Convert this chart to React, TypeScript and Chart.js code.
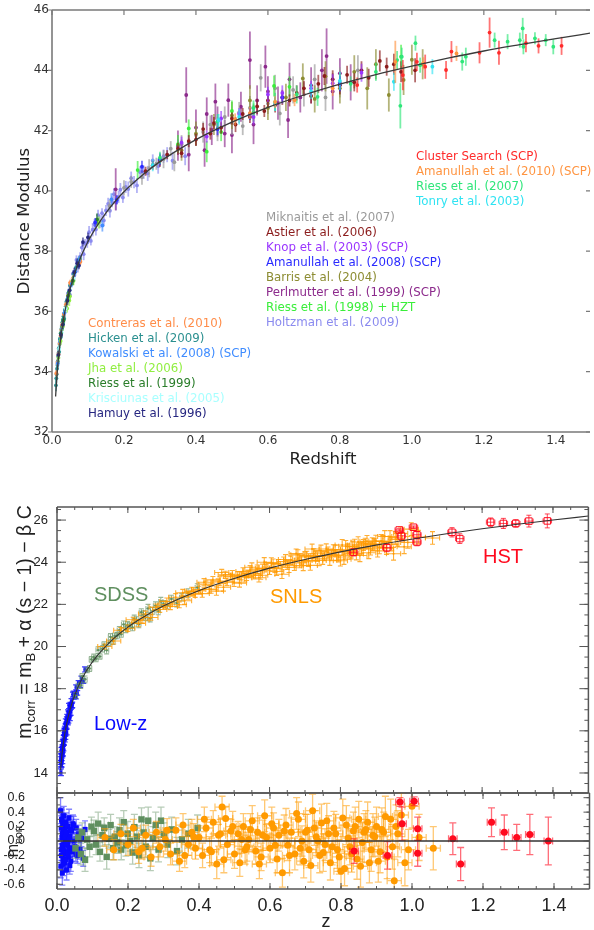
import { useEffect, useRef } from "react";
import { Chart, registerables } from "chart.js";
Chart.register(...registerables);

const SANS = "'DejaVu Sans', sans-serif";
const ARIAL = "'Liberation Sans', Arial, sans-serif";

// ---------- top panel: [redshift, distance modulus, error] ----------
const CURVE_Z = [0.01, 0.015, 0.02, 0.03, 0.04, 0.05, 0.07, 0.1, 0.15, 0.2, 0.25, 0.3, 0.4, 0.5, 0.6, 0.7, 0.8, 0.9, 1.0, 1.1, 1.2, 1.3, 1.4, 1.5];
const CURVE_MU = [33.18, 34.07, 34.7, 35.6, 36.24, 36.74, 37.51, 38.32, 39.27, 39.97, 40.51, 40.97, 41.7, 42.28, 42.77, 43.18, 43.54, 43.86, 44.14, 44.4, 44.64, 44.85, 45.05, 45.24];
const CURVE_M = [14.13, 15.02, 15.65, 16.55, 17.19, 17.69, 18.46, 19.27, 20.22, 20.92, 21.46, 21.92, 22.65, 23.23, 23.72, 24.13, 24.49, 24.81, 25.09, 25.35, 25.59, 25.8, 26.0, 26.19];

const HICKEN = [[0.011,33.55,0.2],[0.012,33.78,0.16],[0.013,33.92,0.15],[0.014,34.1,0.18],[0.015,34.22,0.14],[0.016,34.35,0.16],[0.017,34.52,0.15],[0.018,34.62,0.14],[0.019,34.78,0.15],[0.02,34.66,0.13],[0.021,34.92,0.14],[0.022,35.08,0.15],[0.023,35.12,0.13],[0.024,35.28,0.14],[0.025,35.16,0.15],[0.026,35.42,0.13],[0.027,35.52,0.14],[0.028,35.44,0.13],[0.029,35.64,0.14],[0.03,35.72,0.13],[0.031,35.58,0.14],[0.032,35.84,0.13],[0.033,35.92,0.13],[0.034,35.76,0.14],[0.036,36.06,0.13],[0.038,36.16,0.13],[0.04,36.32,0.12],[0.043,36.4,0.13],[0.046,36.62,0.12],[0.05,36.86,0.12],[0.055,36.96,0.12],[0.06,37.24,0.12],[0.066,37.44,0.11],[0.072,37.66,0.12],[0.078,37.74,0.11]];
const CONTRERAS = [[0.012,33.95,0.1],[0.015,34.3,0.1],[0.018,34.58,0.1],[0.021,34.95,0.1],[0.024,35.2,0.1],[0.026,35.38,0.1],[0.028,35.55,0.1],[0.033,35.9,0.1],[0.038,36.22,0.1],[0.045,36.52,0.1],[0.05,36.95,0.1],[0.058,37.1,0.1],[0.075,37.58,0.1],[0.079,37.65,0.1]];
const KOWALSKI = [[0.016,34.28,0.12],[0.022,35.0,0.12],[0.028,35.42,0.1],[0.035,35.96,0.12],[0.045,36.46,0.1],[0.055,36.92,0.12],[0.065,37.32,0.12],[0.075,37.68,0.15],[0.14,38.85,0.2],[0.165,39.72,0.2]];
const JHA = [[0.018,34.46,0.15],[0.024,35.02,0.14],[0.03,35.5,0.15],[0.042,36.1,0.14],[0.048,36.36,0.18],[0.05,36.5,0.15],[0.06,37.02,0.15],[0.13,38.95,0.2]];
const RIESS99 = [[0.025,35.26,0.15],[0.032,35.7,0.15],[0.045,36.52,0.15],[0.058,37.02,0.15],[0.125,39.05,0.2]];
const KRISCIUNAS = [[0.02,34.76,0.12],[0.027,35.3,0.12],[0.038,36.1,0.12],[0.05,36.72,0.12],[0.06,37.1,0.12]];
const HAMUY = [[0.018,34.56,0.14],[0.025,35.22,0.14],[0.03,35.56,0.14],[0.043,36.36,0.15],[0.049,36.7,0.14],[0.062,37.3,0.15],[0.07,37.6,0.15],[0.075,37.52,0.12],[0.086,38.3,0.15],[0.1,38.46,0.15]];
const HOLTZMAN = [[0.045,36.6,0.15],[0.05,36.55,0.2],[0.058,37.25,0.12],[0.062,37.19,0.18],[0.068,37.71,0.15],[0.072,37.49,0.2],[0.078,37.82,0.14],[0.083,38.12,0.16],[0.088,37.9,0.2],[0.092,38.25,0.15],[0.098,38.29,0.18],[0.103,38.63,0.2],[0.108,38.34,0.15],[0.113,38.71,0.22],[0.118,38.89,0.17],[0.122,38.72,0.2],[0.128,39.19,0.18],[0.133,38.98,0.22],[0.139,39.26,0.16],[0.144,39.02,0.2],[0.15,39.35,0.18],[0.156,39.57,0.2],[0.161,39.34,0.22],[0.167,39.64,0.18],[0.172,39.89,0.2],[0.178,39.61,0.25],[0.185,39.8,0.2],[0.19,40.04,0.22],[0.197,39.78,0.18],[0.205,40.13,0.2],[0.212,40.06,0.25],[0.22,40.42,0.22],[0.228,40.29,0.2],[0.236,40.18,0.25],[0.245,40.62,0.2],[0.255,40.62,0.22],[0.266,40.58,0.25],[0.28,41.01,0.2],[0.295,40.82,0.25],[0.31,41.15,0.22],[0.32,41.2,0.25],[0.335,41.0,0.3],[0.35,41.45,0.25],[0.37,41.15,0.3]];
const MIKNAITIS = [[0.16,39.5,0.2],[0.2,40.1,0.25],[0.22,40.3,0.2],[0.25,40.45,0.25],[0.27,40.75,0.3],[0.29,40.9,0.2],[0.31,41.05,0.3],[0.33,41.4,0.25],[0.34,40.95,0.3],[0.36,41.55,0.3],[0.38,41.6,0.35],[0.4,41.85,0.3],[0.42,41.95,0.35],[0.44,42.2,0.3],[0.46,42.05,0.4],[0.48,42.45,0.35],[0.5,42.25,0.4],[0.52,42.6,0.35],[0.53,42.15,0.3],[0.55,42.75,0.4],[0.58,43.75,0.45],[0.6,42.9,0.35],[0.62,43.4,0.45],[0.633,42.57,0.4],[0.67,43.35,0.45],[0.7,43.2,0.4],[0.73,43.7,0.5],[0.76,43.1,0.45],[0.8,43.6,0.5],[0.85,44.0,0.5]];
const ASTIER = [[0.26,40.65,0.15],[0.28,40.85,0.15],[0.3,41.0,0.2],[0.32,41.2,0.15],[0.35,41.4,0.2],[0.36,41.25,0.15],[0.38,41.65,0.2],[0.4,41.7,0.2],[0.42,42.05,0.2],[0.44,41.9,0.2],[0.45,42.25,0.2],[0.47,42.1,0.2],[0.5,42.4,0.2],[0.51,42.2,0.25],[0.53,42.55,0.2],[0.55,42.45,0.2],[0.57,42.8,0.25],[0.59,42.65,0.2],[0.6,43.0,0.25],[0.62,42.85,0.25],[0.64,43.1,0.25],[0.66,43.0,0.2],[0.68,43.25,0.25],[0.7,43.4,0.25],[0.72,43.15,0.25],[0.74,43.55,0.3],[0.757,43.81,0.3],[0.78,43.7,0.3],[0.8,43.5,0.3],[0.82,43.85,0.3],[0.84,43.6,0.3],[0.86,44.0,0.3],[0.88,43.75,0.3],[0.911,44.31,0.35],[0.93,44.12,0.3],[0.95,44.2,0.35],[0.97,43.95,0.35],[1.009,44.0,0.4]];
const KNOP = [[0.36,41.6,0.2],[0.43,41.8,0.2],[0.47,42.4,0.25],[0.52,42.55,0.2],[0.56,42.45,0.25],[0.6,43.2,0.25],[0.64,43.25,0.25],[0.72,43.4,0.25],[0.78,43.57,0.3],[0.86,43.92,0.3]];
const AMANULLAH08 = [[0.12,38.95,0.15],[0.18,39.7,0.15],[0.25,40.8,0.2],[0.3,41.05,0.2],[0.46,42.05,0.2],[0.55,42.55,0.2],[0.64,43.1,0.2],[0.8,43.55,0.25]];
const BARRIS = [[0.36,41.35,0.35],[0.4,41.9,0.4],[0.45,42.2,0.35],[0.5,42.5,0.45],[0.55,43.0,0.5],[0.6,42.75,0.4],[0.65,43.1,0.45],[0.697,43.73,0.5],[0.73,43.05,0.45],[0.76,43.8,0.5],[0.8,43.4,0.5],[0.84,43.95,0.55],[0.876,43.4,0.7],[0.9,44.2,0.5],[0.936,43.18,0.55],[0.977,43.68,0.5],[1.0,44.35,0.5],[1.03,44.2,0.5]];
const PERLMUTTER = [[0.177,40.05,0.7],[0.35,41.5,0.5],[0.373,43.18,0.92],[0.38,41.2,0.55],[0.4,42.1,0.6],[0.424,41.35,0.55],[0.43,42.55,0.55],[0.444,42.02,0.5],[0.454,42.96,0.6],[0.46,42.3,0.5],[0.48,41.9,0.45],[0.49,43.01,0.55],[0.5,41.85,0.6],[0.525,42.79,0.5],[0.55,44.34,0.95],[0.56,42.2,0.65],[0.57,43.0,0.5],[0.593,44.12,0.7],[0.6,43.3,0.5],[0.628,42.91,0.55],[0.656,42.35,0.6],[0.66,43.7,0.55],[0.69,43.1,0.5],[0.72,43.5,0.6],[0.75,44.0,0.7],[0.763,44.47,0.92],[0.78,43.3,0.6],[0.8,43.9,0.5],[0.83,43.6,0.6]];
const RIESS98 = [[0.238,40.69,0.3],[0.35,41.55,0.3],[0.38,42.07,0.3],[0.43,41.3,0.35],[0.47,41.95,0.3],[0.5,42.65,0.35],[0.56,42.6,0.3],[0.617,43.48,0.35],[0.66,43.45,0.35],[0.97,44.45,0.4]];
const RIESS07 = [[0.3,41.1,0.2],[0.46,42.3,0.25],[0.56,42.75,0.25],[0.62,42.95,0.3],[0.68,43.2,0.3],[0.738,43.12,0.3],[0.83,43.55,0.25],[0.9,43.95,0.3],[0.959,44.34,0.3],[0.968,42.82,0.75],[0.972,44.45,0.3],[1.01,44.9,0.25],[1.023,44.17,0.25],[1.14,44.29,0.3],[1.15,44.45,0.3],[1.23,45.0,0.25],[1.266,44.95,0.25],[1.3,45.0,0.25],[1.308,45.39,0.35],[1.31,44.78,0.25],[1.342,45.06,0.2],[1.372,45.0,0.2],[1.393,44.78,0.25]];
const CLUSTER = [[0.848,43.51,0.25],[0.975,43.84,0.5],[1.014,44.28,0.3],[1.037,44.12,0.4],[1.095,44.01,0.3],[1.11,44.62,0.35],[1.188,44.58,0.35],[1.216,45.25,0.5],[1.242,44.58,0.4],[1.317,44.9,0.3],[1.352,44.81,0.25],[1.416,44.81,0.3]];
const AMANULLAH10 = [[0.509,42.37,0.2],[0.55,42.58,0.2],[0.62,42.95,0.2],[0.674,43.01,0.2],[0.78,43.4,0.25],[0.954,44.28,0.7],[1.032,44.23,0.2],[1.124,44.56,0.25]];
const TONRY = [[0.28,40.85,0.2],[0.463,42.35,0.2],[0.52,42.45,0.25],[0.62,42.9,0.25],[0.72,43.3,0.25],[0.8,43.65,0.3],[0.95,43.62,0.3],[1.057,44.12,0.25]];

const TOP_X_TICKS = [0, 0.2, 0.4, 0.6, 0.8, 1.0, 1.2, 1.4];
const TOP_Y_TICKS = [32, 34, 36, 38, 40, 42, 44, 46];

// ---------- middle / bottom panels ----------
const LOWZ_Z = [0.010,0.011,0.012,0.012,0.013,0.014,0.015,0.016,0.016,0.017,0.018,0.019,0.020,0.021,0.022,0.023,0.024,0.025,0.026,0.027,0.028,0.030,0.031,0.032,0.034,0.035,0.037,0.039,0.041,0.043,0.045,0.048,0.051,0.054,0.057,0.061,0.065,0.069,0.074,0.079,0.0125,0.0135,0.0145,0.0155,0.017,0.0185,0.0195,0.0215,0.0225,0.0235,0.0245,0.0265,0.029,0.0305,0.033,0.036,0.038,0.042,0.047,0.053];
const LOWZ_M = [14.59,14.03,14.75,14.45,15.04,14.95,14.61,15.41,15.11,15.44,15.20,15.91,15.67,15.95,15.60,16.08,15.91,16.44,16.29,15.95,16.53,16.53,16.85,16.50,17.18,16.82,17.10,16.88,17.41,17.23,17.72,17.62,17.67,18.06,17.80,18.26,18.18,18.48,18.36,18.91,14.43,15.07,14.88,15.19,14.97,15.51,15.45,16.04,15.96,15.73,16.21,16.22,16.66,16.41,16.77,16.60,17.22,17.19,17.76,17.63];
const LOWZ_RES = [0.42,-0.35,0.18,-0.12,0.30,0.05,-0.44,0.22,-0.08,0.12,-0.25,0.35,-0.02,0.15,-0.30,0.08,-0.18,0.26,0.02,-0.40,0.10,-0.05,0.20,-0.22,0.32,-0.10,0.06,-0.28,0.14,-0.15,0.24,0.00,-0.08,0.18,-0.20,0.10,-0.12,0.04,-0.24,0.16,-0.2,0.28,-0.06,0.1,-0.32,0.04,-0.14,0.24,0.06,-0.26,0.12,-0.04,0.2,-0.16,0.02,-0.34,0.16,-0.1,0.22,-0.18];
const LOWZ_ERR = [0.18,0.16,0.17,0.15,0.16,0.14,0.17,0.15,0.14,0.16,0.15,0.13,0.14,0.15,0.13,0.14,0.15,0.13,0.12,0.14,0.13,0.12,0.14,0.13,0.12,0.13,0.12,0.14,0.12,0.13,0.12,0.11,0.13,0.12,0.11,0.12,0.13,0.12,0.11,0.12,0.16,0.15,0.17,0.14,0.16,0.15,0.14,0.13,0.15,0.14,0.13,0.14,0.12,0.13,0.14,0.12,0.13,0.12,0.12,0.11];
const LOWZ_ZERR = 0.003;

const SDSS_Z = [0.052,0.06,0.067,0.071,0.079,0.085,0.092,0.097,0.104,0.11,0.116,0.121,0.128,0.133,0.14,0.146,0.151,0.158,0.163,0.17,0.176,0.181,0.188,0.194,0.199,0.206,0.213,0.218,0.225,0.231,0.238,0.244,0.25,0.257,0.263,0.27,0.278,0.286,0.293,0.301,0.312,0.323,0.338,0.352,0.37,0.396];
const SDSS_M = [17.68,18.14,18.16,18.59,18.44,18.88,18.96,19.39,19.49,19.42,19.83,19.53,19.89,20.09,19.82,20.18,20.46,20.26,20.50,20.52,20.78,20.58,21.05,20.81,21.01,20.99,20.91,21.31,21.26,21.06,21.63,21.52,21.38,21.81,21.34,21.69,21.94,21.68,22.14,22.02,21.96,22.26,22.07,22.34,22.54,22.80];
const SDSS_RES = [-0.10,0.05,-0.18,0.12,-0.26,0.02,-0.08,0.20,0.14,-0.05,0.24,-0.15,0.08,0.18,-0.22,0.03,0.22,-0.10,0.06,-0.02,0.15,-0.12,0.26,-0.06,0.10,0.00,-0.16,0.19,0.06,-0.20,0.30,0.12,-0.08,0.28,-0.24,0.04,0.22,-0.12,0.28,0.09,-0.05,0.16,-0.14,0.02,0.10,0.18];
const SDSS_ERR = [0.14,0.12,0.15,0.13,0.16,0.12,0.14,0.13,0.15,0.14,0.16,0.13,0.15,0.14,0.17,0.13,0.15,0.16,0.14,0.15,0.17,0.14,0.16,0.15,0.17,0.14,0.16,0.18,0.15,0.17,0.16,0.18,0.15,0.19,0.17,0.16,0.18,0.17,0.19,0.16,0.18,0.17,0.19,0.18,0.2,0.18];
const SDSS_ZERR = 0.006;

const SNLS_Z = [0.135,0.16,0.18,0.2,0.215,0.23,0.25,0.265,0.28,0.29,0.305,0.32,0.335,0.345,0.355,0.37,0.38,0.39,0.4,0.41,0.42,0.43,0.44,0.45,0.455,0.465,0.475,0.48,0.49,0.5,0.51,0.515,0.525,0.535,0.54,0.55,0.56,0.565,0.575,0.585,0.59,0.6,0.61,0.62,0.625,0.635,0.645,0.65,0.66,0.67,0.68,0.69,0.695,0.705,0.71,0.72,0.73,0.74,0.745,0.755,0.765,0.77,0.78,0.79,0.8,0.81,0.815,0.825,0.835,0.845,0.85,0.86,0.87,0.88,0.89,0.9,0.91,0.92,0.93,0.94,0.95,0.96,0.97,0.99,1.0,1.02,1.06,
  0.24,0.31,0.36,0.385,0.415,0.435,0.46,0.47,0.495,0.52,0.53,0.545,0.57,0.58,0.605,0.615,0.64,0.655,0.675,0.685,0.7,0.715,0.725,0.735,0.75,0.76,0.775,0.785,0.795,0.805,0.82,0.83,0.84,0.855,0.865,0.875,0.885,0.895,0.905,0.915,0.925,0.945,0.955,0.98];
const SNLS_M = [20.00,20.26,20.77,20.87,21.27,21.10,21.54,21.38,21.87,21.76,21.98,21.90,22.34,21.98,22.55,22.39,22.63,22.48,22.70,22.51,22.96,22.72,23.16,22.63,23.06,23.51,23.40,23.07,23.32,23.05,23.38,23.01,23.56,23.33,23.45,23.76,23.39,23.67,23.38,24.00,23.72,23.62,23.94,23.56,23.91,23.43,24.13,23.87,24.09,23.83,24.35,24.09,23.83,24.30,24.05,24.63,24.30,24.08,24.55,24.29,24.47,24.09,24.60,24.34,24.07,24.14,24.76,24.49,24.74,24.39,24.96,24.67,24.88,24.45,24.86,25.01,24.69,24.98,24.67,25.22,24.40,25.08,25.37,24.94,25.57,25.19,25.15,
  21.26,22.14,22.17,22.61,23.05,22.72,23.11,22.81,23.40,23.35,23.26,23.62,23.26,23.70,23.98,23.72,24.03,23.75,24.41,23.97,24.25,23.85,24.40,24.26,24.16,24.63,24.32,24.54,24.25,24.82,24.59,24.41,24.82,24.32,24.82,24.99,24.64,24.85,24.54,25.01,25.22,24.85,25.16,24.73];
const SNLS_RES = [0.05,-0.12,0.10,-0.05,0.18,-0.15,0.08,-0.22,0.12,-0.08,0.02,-0.18,0.15,-0.28,0.22,-0.05,0.12,-0.10,0.05,-0.20,0.18,-0.12,0.26,-0.32,0.08,0.47,0.31,-0.05,0.14,-0.18,0.10,-0.30,0.20,-0.08,0.02,0.28,-0.14,0.12,-0.22,0.35,0.05,-0.10,0.18,-0.25,0.08,-0.44,0.22,-0.06,0.12,-0.18,0.30,0.00,-0.28,0.15,-0.12,0.42,0.06,-0.20,0.25,-0.05,0.10,-0.30,0.18,-0.12,-0.42,-0.38,0.22,-0.08,0.14,-0.25,0.30,-0.02,0.16,-0.30,0.08,0.20,-0.15,0.12,-0.22,0.30,-0.55,0.10,0.36,-0.12,0.48,0.05,-0.10,
  -0.1,0.15,-0.2,0.06,0.3,-0.15,0.1,-0.26,0.2,0.02,-0.12,0.16,-0.32,0.08,0.24,-0.06,0.14,-0.2,0.38,-0.1,0.12,-0.34,0.18,0.0,-0.16,0.28,-0.08,0.1,-0.22,0.32,0.04,-0.18,0.2,-0.35,0.12,0.26,-0.12,0.06,-0.28,0.16,0.34,-0.08,0.2,-0.3];
const SNLS_ERR = [0.12,0.14,0.13,0.15,0.12,0.16,0.14,0.13,0.15,0.14,0.16,0.15,0.17,0.14,0.16,0.15,0.18,0.15,0.16,0.17,0.15,0.18,0.16,0.2,0.15,0.15,0.17,0.18,0.16,0.2,0.17,0.19,0.18,0.2,0.17,0.21,0.18,0.2,0.19,0.22,0.18,0.2,0.21,0.19,0.22,0.2,0.23,0.21,0.2,0.22,0.24,0.21,0.23,0.22,0.25,0.23,0.22,0.24,0.26,0.22,0.25,0.24,0.23,0.26,0.25,0.24,0.27,0.25,0.26,0.28,0.25,0.27,0.26,0.28,0.3,0.27,0.29,0.28,0.3,0.28,0.3,0.32,0.3,0.28,0.3,0.32,0.3,
  0.15,0.16,0.17,0.18,0.17,0.19,0.2,0.18,0.21,0.19,0.2,0.22,0.2,0.21,0.23,0.21,0.22,0.24,0.22,0.23,0.25,0.23,0.24,0.22,0.26,0.24,0.25,0.27,0.24,0.26,0.28,0.25,0.27,0.29,0.26,0.28,0.3,0.27,0.29,0.3,0.28,0.31,0.3,0.32];
const SNLS_ZERR = 0.02;

const HST_Z = [0.837,0.931,0.966,0.972,1.006,1.016,1.016,1.115,1.137,1.224,1.26,1.295,1.332,1.384];
const HST_M = [24.47,24.69,25.53,25.25,25.66,25.30,24.96,25.42,25.12,25.90,25.84,25.84,25.95,25.96];
const HST_RES = [-0.14,-0.20,0.54,0.24,0.55,0.17,-0.17,0.03,-0.32,0.26,0.12,0.05,0.09,0.00];
const HST_ERR = [0.17,0.19,0.06,0.23,0.06,0.16,0.18,0.22,0.23,0.2,0.24,0.18,0.28,0.33];
const HST_ZERR = 0.012;

const ZERO_Z = [0, 1.5];
const ZERO_RES = [0, 0];

const Z_TICKS = [0, 0.2, 0.4, 0.6, 0.8, 1.0, 1.2, 1.4];
const MID_Y_TICKS = [14, 16, 18, 20, 22, 24, 26];
const RES_Y_TICKS = [-0.6, -0.4, -0.2, 0, 0.2, 0.4, 0.6];

// ---------- helpers ----------
function rgba(hex: string, a: number) {
  const n = parseInt(hex.slice(1), 16);
  return `rgba(${(n >> 16) & 255},${(n >> 8) & 255},${n & 255},${a})`;
}
function pts(xs: number[], ys: number[]) {
  return xs.map((x, i) => ({ x, y: ys[i] }));
}

const errPlugin: any = {
  id: "errbars",
  beforeDatasetDraw(chart: any, args: any) {
    const ds: any = chart.data.datasets[args.index];
    if (!ds.errY) return;
    const { ctx, chartArea: a, scales } = chart;
    const xs = scales.x, ys = scales.y;
    ctx.save();
    ctx.beginPath();
    ctx.rect(a.left, a.top, a.right - a.left, a.bottom - a.top);
    ctx.clip();
    ctx.strokeStyle = ds.barColor;
    ctx.lineWidth = ds.barWidth || 1;
    const cap = ds.cap || 0;
    ds.data.forEach((p: any, j: number) => {
      const ey = ds.errY[j];
      const px = xs.getPixelForValue(p.x);
      const py = ys.getPixelForValue(p.y);
      ctx.beginPath();
      if (ey != null) {
        const y1 = ys.getPixelForValue(p.y - ey);
        const y2 = ys.getPixelForValue(p.y + ey);
        ctx.moveTo(px, y1); ctx.lineTo(px, y2);
        if (cap) {
          ctx.moveTo(px - cap / 2, y1); ctx.lineTo(px + cap / 2, y1);
          ctx.moveTo(px - cap / 2, y2); ctx.lineTo(px + cap / 2, y2);
        }
      }
      const ex = ds.errX;
      if (ex) {
        const x1 = xs.getPixelForValue(p.x - ex);
        const x2 = xs.getPixelForValue(p.x + ex);
        ctx.moveTo(x1, py); ctx.lineTo(x2, py);
        if (cap) {
          ctx.moveTo(x1, py - cap / 2); ctx.lineTo(x1, py + cap / 2);
          ctx.moveTo(x2, py - cap / 2); ctx.lineTo(x2, py + cap / 2);
        }
      }
      ctx.stroke();
    });
    ctx.restore();
  },
};

function framePlugin(o: any): any {
  return {
    id: "frame",
    afterDatasetsDraw(chart: any) {
      const { ctx, chartArea: a, scales } = chart;
      ctx.save();
      ctx.strokeStyle = o.color;
      ctx.lineWidth = o.width;
      ctx.beginPath();
      for (const s of o.sides) {
        if (s === "left") { ctx.moveTo(a.left, a.top); ctx.lineTo(a.left, a.bottom); }
        if (s === "right") { ctx.moveTo(a.right, a.top); ctx.lineTo(a.right, a.bottom); }
        if (s === "top") { ctx.moveTo(a.left, a.top); ctx.lineTo(a.right, a.top); }
        if (s === "bottom") { ctx.moveTo(a.left, a.bottom); ctx.lineTo(a.right, a.bottom); }
      }
      ctx.stroke();
      ctx.lineWidth = o.tickWidth || 1;
      ctx.beginPath();
      for (const t of o.ticks) {
        const sc = t.axis === "x" ? scales.x : scales.y;
        let vals: number[] = t.values;
        if (!vals) {
          vals = [];
          const k0 = Math.ceil(sc.min / t.step - 1e-6);
          for (let k = k0; k * t.step <= sc.max + 1e-9; k++) vals.push(k * t.step);
        }
        for (const v of vals) {
          const p = sc.getPixelForValue(v);
          const L = t.len;
          if (t.edge === "top" || t.edge === "bottom") {
            const y0 = t.edge === "top" ? a.top : a.bottom;
            const sgn = t.edge === "top" ? 1 : -1;
            const y1 = t.dir === "out" || t.dir === "both" ? y0 - sgn * L : y0;
            const y2 = t.dir === "out" ? y0 : y0 + sgn * L;
            ctx.moveTo(p, y1); ctx.lineTo(p, y2);
          } else {
            const x0 = t.edge === "left" ? a.left : a.right;
            const sgn = t.edge === "left" ? 1 : -1;
            const x1 = t.dir === "out" || t.dir === "both" ? x0 - sgn * L : x0;
            const x2 = t.dir === "out" ? x0 : x0 + sgn * L;
            ctx.moveTo(x1, p); ctx.lineTo(x2, p);
          }
        }
      }
      ctx.stroke();
      ctx.restore();
    },
  };
}

function notesPlugin(items: any[]): any {
  return {
    id: "notes",
    afterDraw(chart: any) {
      const ctx = chart.ctx;
      for (const n of items) {
        ctx.save();
        ctx.translate(n.x, n.y);
        if (n.rotate) ctx.rotate(n.rotate);
        ctx.fillStyle = n.color;
        ctx.textBaseline = n.baseline || "middle";
        ctx.textAlign = "left";
        const parts = n.parts || [{ t: n.text }];
        let total = 0;
        for (const p of parts) {
          ctx.font = `${p.size || n.size}px ${n.family}`;
          total += ctx.measureText(p.t).width;
        }
        let cx = n.align === "center" ? -total / 2 : n.align === "right" ? -total : 0;
        for (const p of parts) {
          ctx.font = `${p.size || n.size}px ${n.family}`;
          ctx.fillText(p.t, cx, p.dy || 0);
          cx += ctx.measureText(p.t).width;
        }
        ctx.restore();
      }
    },
  };
}

// fixed-size axis boxes, with no extra label overflow padding
function fitY(w: number) {
  return (s: any) => { s.width = w; s.paddingTop = 0; s.paddingBottom = 0; };
}
function fitX(h: number) {
  return (s: any) => { s.height = h; s.paddingLeft = 0; s.paddingRight = 0; };
}

function linScale(min: number, max: number, ticks: number[], fmt: (v: number) => string, font: any, color: string, padding: number, fit: (s: any) => void, display = true) {
  return {
    type: "linear",
    display,
    min,
    max,
    afterBuildTicks: (s: any) => { s.ticks = ticks.map((v) => ({ value: v })); },
    afterFit: fit,
    grid: { display: false, drawTicks: false, tickLength: 0 },
    border: { display: false },
    ticks: { font, color, padding, autoSkip: false, maxRotation: 0, callback: (v: any) => fmt(Number(v)) },
  };
}

const baseOptions = {
  responsive: false,
  animation: false,
  events: [],
  plugins: { legend: { display: false }, tooltip: { enabled: false } },
};

function curveDs(xs: number[], ys: number[], color: string, w: number) {
  return {
    data: pts(xs, ys),
    showLine: true,
    borderColor: color,
    borderWidth: w,
    pointRadius: 0,
    cubicInterpolationMode: "monotone",
    fill: false,
  };
}

function topDs(rows: number[][], color: string) {
  return {
    data: rows.map((r) => ({ x: r[0], y: r[1] })),
    errY: rows.map((r) => r[2]),
    barColor: rgba(color, 0.65),
    barWidth: 1.8,
    pointRadius: 1.9,
    pointBorderWidth: 0,
    backgroundColor: color,
    borderColor: color,
    showLine: false,
  };
}

function errDs(xs: number[], ys: number[], err: number[], zerr: number, opt: any) {
  return {
    data: pts(xs, ys),
    errY: err,
    errX: zerr,
    showLine: false,
    ...opt,
  };
}

// ---------- configs ----------
const TOP_COL = {
  cluster: "#ff2b2b", aman10: "#ff9440", riess07: "#2fe67a", tonry: "#2fe3f2",
  mikn: "#9a9a9a", astier: "#8b1c1c", knop: "#9a35ff", aman08: "#2a2aff", barris: "#8c8c32", perl: "#8c2a8c", riess98: "#3aee3a", holtz: "#8a8aef",
  contr: "#ff8c48", hicken: "#2a8f8f", kow: "#3f8cff", jha: "#90ee40", riess99: "#2a7d2a", kris: "#a8ffff", hamuy: "#262680",
};

function topConfig(): any {
  const c = TOP_COL;
  const datasets = [
    curveDs(CURVE_Z, CURVE_MU, "#3a3a3a", 1.3),
    topDs(CLUSTER, c.cluster),
    topDs(AMANULLAH10, c.aman10),
    topDs(TONRY, c.tonry),
    topDs(RIESS07, c.riess07),
    topDs(KNOP, c.knop),
    topDs(AMANULLAH08, c.aman08),
    topDs(ASTIER, c.astier),
    topDs(RIESS98, c.riess98),
    topDs(BARRIS, c.barris),
    topDs(MIKNAITIS, c.mikn),
    topDs(PERLMUTTER, c.perl),
    topDs(HAMUY, c.hamuy),
    topDs(RIESS99, c.riess99),
    topDs(KRISCIUNAS, c.kris),
    topDs(JHA, c.jha),
    topDs(KOWALSKI, c.kow),
    topDs(CONTRERAS, c.contr),
    topDs(HICKEN, c.hicken),
    topDs(HOLTZMAN, c.holtz),
  ];
  const L = (text: string, color: string, x: number, y: number) => ({ text, color, x, y, size: 11.8, family: SANS });
  const notes = [
    L("Cluster Search (SCP)", c.cluster, 416, 157),
    L("Amanullah et al. (2010) (SCP)", c.aman10, 416, 172),
    L("Riess et al. (2007)", c.riess07, 416, 187),
    L("Tonry et al. (2003)", c.tonry, 416, 202),
    L("Miknaitis et al. (2007)", c.mikn, 266, 218),
    L("Astier et al. (2006)", c.astier, 266, 233),
    L("Knop et al. (2003) (SCP)", c.knop, 266, 248),
    L("Amanullah et al. (2008) (SCP)", c.aman08, 266, 263),
    L("Barris et al. (2004)", c.barris, 266, 278),
    L("Perlmutter et al. (1999) (SCP)", c.perl, 266, 293),
    L("Riess et al. (1998) + HZT", c.riess98, 266, 308),
    L("Holtzman et al. (2009)", c.holtz, 266, 323),
    L("Contreras et al. (2010)", c.contr, 88, 324),
    L("Hicken et al. (2009)", c.hicken, 88, 339),
    L("Kowalski et al. (2008) (SCP)", c.kow, 88, 354),
    L("Jha et al. (2006)", c.jha, 88, 369),
    L("Riess et al. (1999)", c.riess99, 88, 384),
    L("Krisciunas et al. (2005)", c.kris, 88, 399),
    L("Hamuy et al. (1996)", c.hamuy, 88, 414),
    { text: "Redshift", color: "#222", x: 323, y: 464, size: 16.5, family: SANS, align: "center", baseline: "alphabetic" },
    { text: "Distance Modulus", color: "#222", x: 29, y: 221, size: 16.5, family: SANS, align: "center", baseline: "alphabetic", rotate: -Math.PI / 2 },
  ];
  return {
    type: "scatter",
    data: { datasets },
    options: {
      ...baseOptions,
      layout: { padding: { top: 10, right: 0, left: 0, bottom: 0 } },
      scales: {
        x: linScale(0, 1.495, TOP_X_TICKS, (v) => v.toFixed(1), { family: SANS, size: 12 }, "#333", 2, fitX(38)),
        y: linScale(32, 46, TOP_Y_TICKS, (v) => String(v), { family: SANS, size: 12 }, "#333", 3, fitY(52)),
      },
    },
    plugins: [
      errPlugin,
      framePlugin({
        color: "#7a7a7a", width: 1.6, tickWidth: 1.2, sides: ["left", "bottom", "top"],
        ticks: [
          { axis: "x", edge: "top", values: TOP_X_TICKS, len: 5, dir: "in" },
          { axis: "y", edge: "left", values: TOP_Y_TICKS, len: 4, dir: "out" },
          { axis: "y", edge: "right", values: TOP_Y_TICKS, len: 4, dir: "in" },
        ],
      }),
      notesPlugin(notes),
    ],
  };
}

const ORANGE = "#ff9a00";
const GREEN = "#5f8f5f";
const BLUE = "#0a0aff";
const RED = "#ff0a1e";

const MID_BOT_TICKS_X = [
  { axis: "x", edge: "top", values: Z_TICKS, len: 6, dir: "in" },
  { axis: "x", edge: "top", step: 0.05, len: 3, dir: "in" },
  { axis: "x", edge: "bottom", values: Z_TICKS, len: 6, dir: "in" },
  { axis: "x", edge: "bottom", step: 0.05, len: 3, dir: "in" },
];

function midConfig(): any {
  const datasets = [
    curveDs(CURVE_Z, CURVE_M, "#333", 1.1),
    errDs(HST_Z, HST_M, HST_ERR, HST_ZERR, { barColor: rgba(RED, 0.75), barWidth: 1, cap: 5, pointStyle: "rect", pointRadius: 4.6, pointBorderWidth: 1, borderColor: RED, backgroundColor: "rgba(0,0,0,0)" }),
    errDs(SNLS_Z, SNLS_M, SNLS_ERR, SNLS_ZERR, { barColor: rgba(ORANGE, 0.8), barWidth: 1.1, cap: 5, pointRadius: 1, pointBorderWidth: 0, backgroundColor: ORANGE }),
    errDs(SDSS_Z, SDSS_M, SDSS_ERR, SDSS_ZERR, { barColor: rgba(GREEN, 0.65), barWidth: 1.1, cap: 5, pointRadius: 1.2, pointBorderWidth: 0, backgroundColor: GREEN }),
    errDs(LOWZ_Z, LOWZ_M, LOWZ_ERR, LOWZ_ZERR, { barColor: rgba(BLUE, 0.8), barWidth: 1.2, cap: 6, pointRadius: 1.3, pointBorderWidth: 0, backgroundColor: BLUE }),
  ];
  const F = ARIAL;
  const notes = [
    { text: "SDSS", color: GREEN, x: 94, y: 125, size: 20, family: F },
    { text: "SNLS", color: ORANGE, x: 270, y: 127, size: 20, family: F },
    { text: "Low-z", color: BLUE, x: 94, y: 254, size: 20, family: F },
    { text: "HST", color: RED, x: 483, y: 87, size: 20, family: F },
    {
      color: "#222", x: 31, y: 152, size: 19.5, family: F, align: "center", baseline: "alphabetic", rotate: -Math.PI / 2,
      parts: [
        { t: "m" }, { t: "corr", size: 13, dy: 4 }, { t: " = m" }, { t: "B", size: 13, dy: 4 },
        { t: " + \u03b1 (s \u2212 1) \u2212 \u03b2 C" },
      ],
    },
  ];
  return {
    type: "scatter",
    data: { datasets },
    options: {
      ...baseOptions,
      layout: { padding: { top: 37, right: 4.5, left: 0, bottom: 7 } },
      scales: {
        x: linScale(0, 1.5, Z_TICKS, (v) => v.toFixed(1), { family: F, size: 16 }, "#222", 0, fitX(0), false),
        y: linScale(13.05, 26.62, MID_Y_TICKS, (v) => String(v), { family: F, size: 13 }, "#222", 9, fitY(57)),
      },
    },
    plugins: [
      errPlugin,
      framePlugin({
        color: "#555", width: 1.5, tickWidth: 1, sides: ["left", "bottom", "top", "right"],
        ticks: [
          ...MID_BOT_TICKS_X,
          { axis: "y", edge: "left", values: MID_Y_TICKS, len: 9, dir: "in" },
          { axis: "y", edge: "left", step: 0.5, len: 4, dir: "in" },
          { axis: "y", edge: "right", values: MID_Y_TICKS, len: 9, dir: "in" },
          { axis: "y", edge: "right", step: 0.5, len: 4, dir: "in" },
        ],
      }),
      notesPlugin(notes),
    ],
  };
}

function botConfig(): any {
  const datasets = [
    curveDs(ZERO_Z, ZERO_RES, "#333", 1.5),
    errDs(HST_Z, HST_RES, HST_ERR, HST_ZERR, { barColor: rgba(RED, 0.6), barWidth: 1.3, cap: 7, pointRadius: 3.5, pointBorderWidth: 0, backgroundColor: RED }),
    errDs(SNLS_Z, SNLS_RES, SNLS_ERR, SNLS_ZERR, { barColor: rgba(ORANGE, 0.55), barWidth: 1.3, cap: 7, pointRadius: 3.5, pointBorderWidth: 0, backgroundColor: ORANGE }),
    errDs(SDSS_Z, SDSS_RES, SDSS_ERR, SDSS_ZERR, { barColor: rgba(GREEN, 0.45), barWidth: 1.3, cap: 7, pointStyle: "rect", pointRadius: 4.5, pointBorderWidth: 0, backgroundColor: GREEN }),
    errDs(LOWZ_Z, LOWZ_RES, LOWZ_ERR, LOWZ_ZERR, { barColor: rgba(BLUE, 0.5), barWidth: 1.3, cap: 6, pointStyle: "rect", pointRadius: 3.6, pointBorderWidth: 0, backgroundColor: BLUE }),
  ];
  const F = ARIAL;
  const notes = [
    {
      color: "#222", x: 18, y: 61, size: 16, family: F, align: "center", baseline: "alphabetic", rotate: -Math.PI / 2,
      parts: [{ t: "m" }, { t: "corr", size: 11, dy: 4 }],
    },
    { text: "z", color: "#222", x: 326, y: 147, size: 18, family: F, align: "center", baseline: "alphabetic" },
  ];
  return {
    type: "scatter",
    data: { datasets },
    options: {
      ...baseOptions,
      layout: { padding: { top: 13, right: 4.5, left: 0, bottom: 0 } },
      scales: {
        x: linScale(0, 1.5, Z_TICKS, (v) => v.toFixed(1), { family: F, size: 18 }, "#222", 6, fitX(41)),
        y: linScale(-0.665, 0.665, RES_Y_TICKS, (v) => v.toFixed(1), { family: F, size: 12.5 }, "#222", 32, fitY(57)),
      },
    },
    plugins: [
      errPlugin,
      framePlugin({
        color: "#555", width: 1.5, tickWidth: 1, sides: ["left", "bottom", "top", "right"],
        ticks: [
          ...MID_BOT_TICKS_X,
          { axis: "y", edge: "left", values: RES_Y_TICKS, len: 6, dir: "in" },
          { axis: "y", edge: "left", step: 0.1, len: 3, dir: "in" },
          { axis: "y", edge: "right", values: RES_Y_TICKS, len: 6, dir: "in" },
          { axis: "y", edge: "right", step: 0.1, len: 3, dir: "in" },
        ],
      }),
      notesPlugin(notes),
    ],
  };
}

export default function App() {
  const a = useRef<HTMLCanvasElement>(null);
  const b = useRef<HTMLCanvasElement>(null);
  const c = useRef<HTMLCanvasElement>(null);
  useEffect(() => {
    const charts = [
      new Chart(a.current as any, topConfig()),
      new Chart(b.current as any, midConfig()),
      new Chart(c.current as any, botConfig()),
    ];
    return () => charts.forEach((ch) => ch.destroy());
  }, []);
  return (
    <div style={{ position: "absolute", left: 0, top: 0, width: 594, height: 930, background: "#fff", overflow: "hidden" }}>
      <canvas ref={a} width={594} height={470} style={{ position: "absolute", left: 0, top: 0 }} />
      <canvas ref={b} width={594} height={330} style={{ position: "absolute", left: 0, top: 470 }} />
      <canvas ref={c} width={594} height={150} style={{ position: "absolute", left: 0, top: 780 }} />
    </div>
  );
}
